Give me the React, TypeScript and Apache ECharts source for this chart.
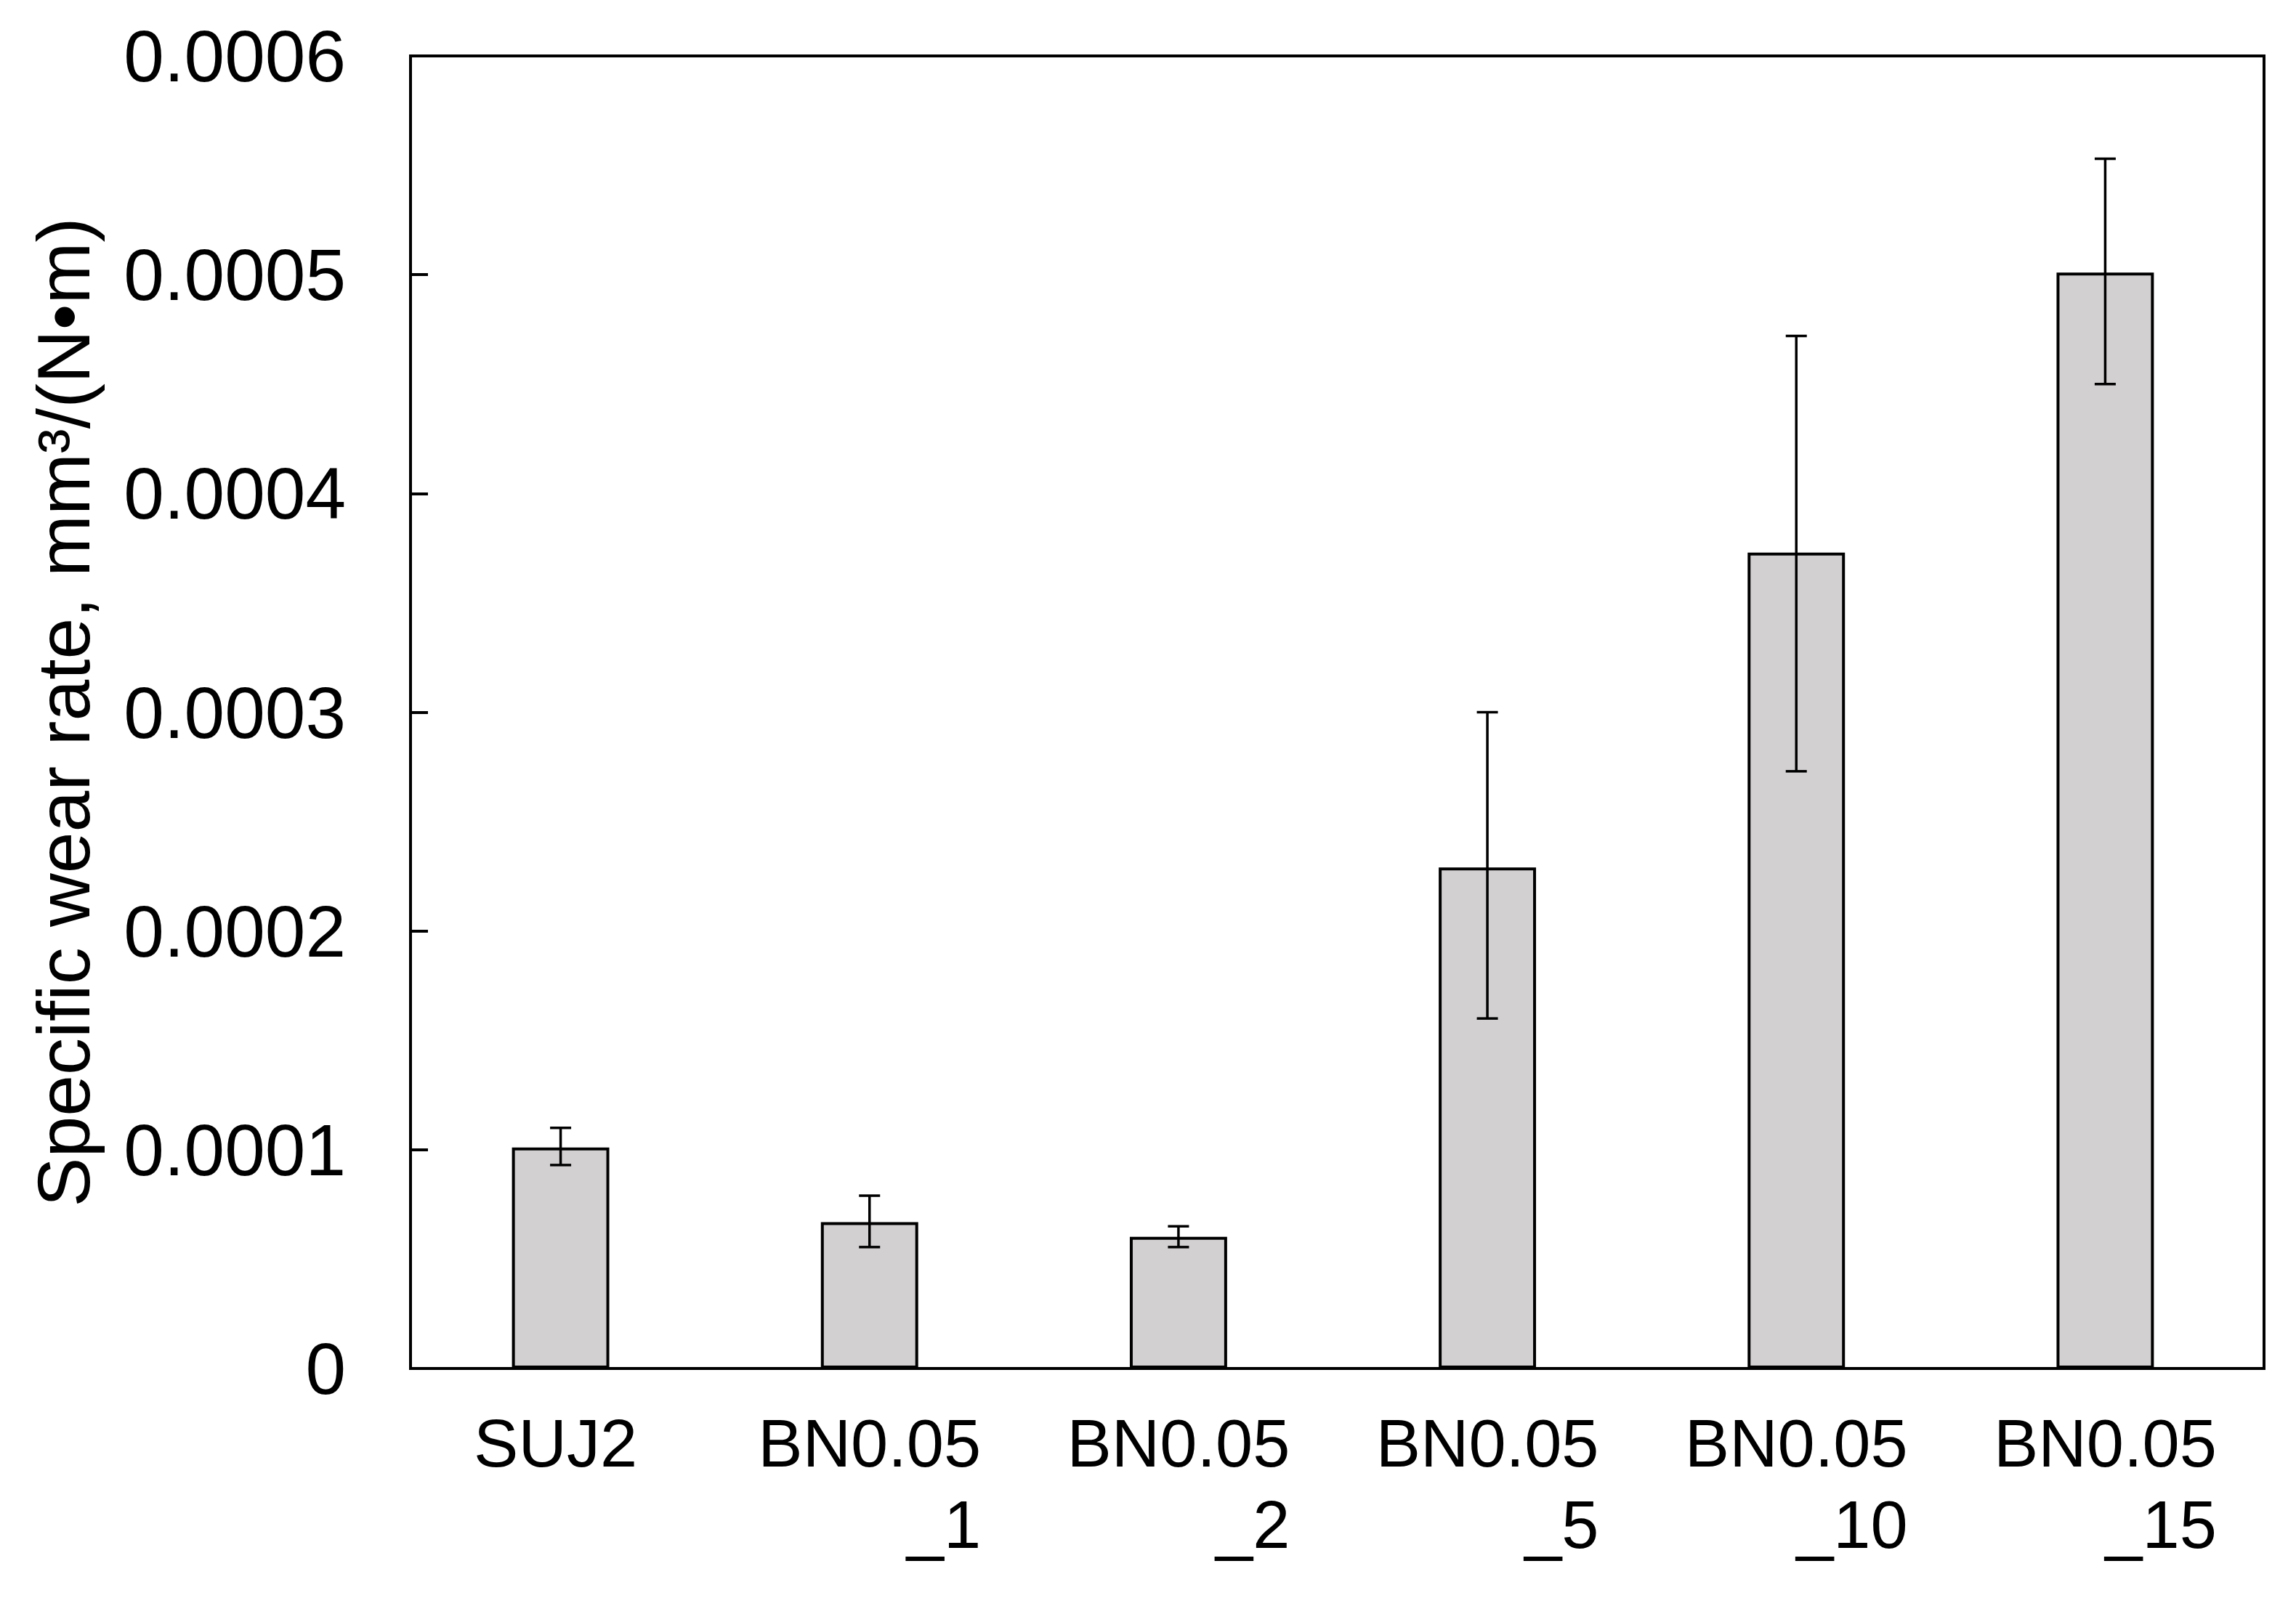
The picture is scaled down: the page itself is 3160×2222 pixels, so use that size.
import React, { useEffect, useRef } from "react";
import * as echarts from "echarts";

const categories = ["SUJ2", "BN0.05_1", "BN0.05_2", "BN0.05_5", "BN0.05_10", "BN0.05_15"];
const wearRate = [0.000101, 0.0000669, 0.0000602, 0.000229, 0.000373, 0.000501];
const errUpper = [0.000110, 0.0000790, 0.0000650, 0.000300, 0.000472, 0.000553];
const errLower = [0.0000930, 0.0000555, 0.0000555, 0.000160, 0.000273, 0.000450];
const yTicks = [0, 0.0001, 0.0002, 0.0003, 0.0004, 0.0005, 0.0006];

const FONT = "'Liberation Sans', Arial, sans-serif";

export default function App() {
  const ref = useRef<HTMLDivElement>(null);
  useEffect(() => {
    if (!ref.current) return;
    const chart = echarts.init(ref.current, null, { renderer: "svg" });
    const errData = categories.map((c, i) => [i, errLower[i], errUpper[i]]);
    const yBase = { type: "value", min: 0, max: 0.0006, interval: 0.0001 };
    chart.setOption({
      animation: false,
      backgroundColor: "#ffffff",
      grid: [
        {
          left: 565,
          right: 44,
          top: 77,
          bottom: 338,
          show: true,
          borderColor: "#000000",
          borderWidth: 4,
          backgroundColor: "transparent",
        },
        { left: 559, right: 50, top: 77, bottom: 338, show: false },
      ],
      xAxis: [
        {
          type: "category",
          gridIndex: 0,
          data: categories,
          axisLine: { show: true, lineStyle: { color: "#000000", width: 4 } },
          axisTick: { show: false },
          axisLabel: { show: false },
          splitLine: { show: false },
        },
        {
          type: "category",
          gridIndex: 1,
          data: categories,
          axisLine: { show: false },
          axisTick: { show: false },
          axisLabel: {
            interval: 0,
            margin: 47,
            fontFamily: FONT,
            fontSize: 92,
            color: "#000000",
            formatter: (v: string) => {
              const idx = v.indexOf("_");
              if (idx < 0) return "{c|" + v + "}";
              return "{a|" + v.slice(0, idx) + "}\n{b|" + v.slice(idx) + "}";
            },
            rich: {
              a: { fontFamily: FONT, fontSize: 92, lineHeight: 112, color: "#000000" },
              b: { fontFamily: FONT, fontSize: 92, lineHeight: 112, color: "#000000", align: "right" },
              c: { fontFamily: FONT, fontSize: 92, lineHeight: 112, color: "#000000", padding: [0, 14, 0, 0] },
            },
          },
          splitLine: { show: false },
        },
      ],
      yAxis: [
        {
          ...yBase,
          gridIndex: 0,
          name: "Specific wear rate, mm³/(N•m)",
          nameLocation: "middle",
          nameGap: 426,
          nameTextStyle: { fontFamily: FONT, fontSize: 102, color: "#000000" },
          axisLine: { show: true, lineStyle: { color: "#000000", width: 4 } },
          axisTick: { show: true, inside: true, length: 24, lineStyle: { color: "#000000", width: 4 } },
          axisLabel: {
            margin: 89,
            fontFamily: FONT,
            fontSize: 100,
            color: "#000000",
            formatter: (v: number) => {
              const t = yTicks.find((x) => Math.abs(x - v) < 1e-9);
              if (t === 0) return "0";
              return (t ?? v).toFixed(4);
            },
          },
          splitLine: { show: false },
        },
        {
          ...yBase,
          gridIndex: 1,
          axisLine: { show: false },
          axisTick: { show: false },
          axisLabel: { show: false },
          splitLine: { show: false },
        },
      ],
      series: [
        {
          type: "bar",
          xAxisIndex: 1,
          yAxisIndex: 1,
          data: wearRate,
          barWidth: "31.5%",
          itemStyle: { color: "#d3d0d1", borderColor: "#000000", borderWidth: 4 },
          z: 2,
        },
        {
          type: "custom",
          xAxisIndex: 1,
          yAxisIndex: 1,
          data: errData,
          z: 5,
          renderItem: (params: any, api: any) => {
            const x = api.value(0);
            const lo = api.coord([x, api.value(1)]);
            const hi = api.coord([x, api.value(2)]);
            const half = 14.5;
            const style = { stroke: "#000000", lineWidth: 3.5, fill: "none" };
            return {
              type: "group",
              children: [
                { type: "line", shape: { x1: lo[0], y1: lo[1], x2: hi[0], y2: hi[1] }, style },
                { type: "line", shape: { x1: hi[0] - half, y1: hi[1], x2: hi[0] + half, y2: hi[1] }, style },
                { type: "line", shape: { x1: lo[0] - half, y1: lo[1], x2: lo[0] + half, y2: lo[1] }, style },
              ],
            };
          },
        },
      ],
    });
    return () => chart.dispose();
  }, []);
  return (
    <div
      ref={ref}
      style={{ position: "fixed", left: 0, top: 0, width: 3160, height: 2222, background: "#ffffff" }}
    />
  );
}
